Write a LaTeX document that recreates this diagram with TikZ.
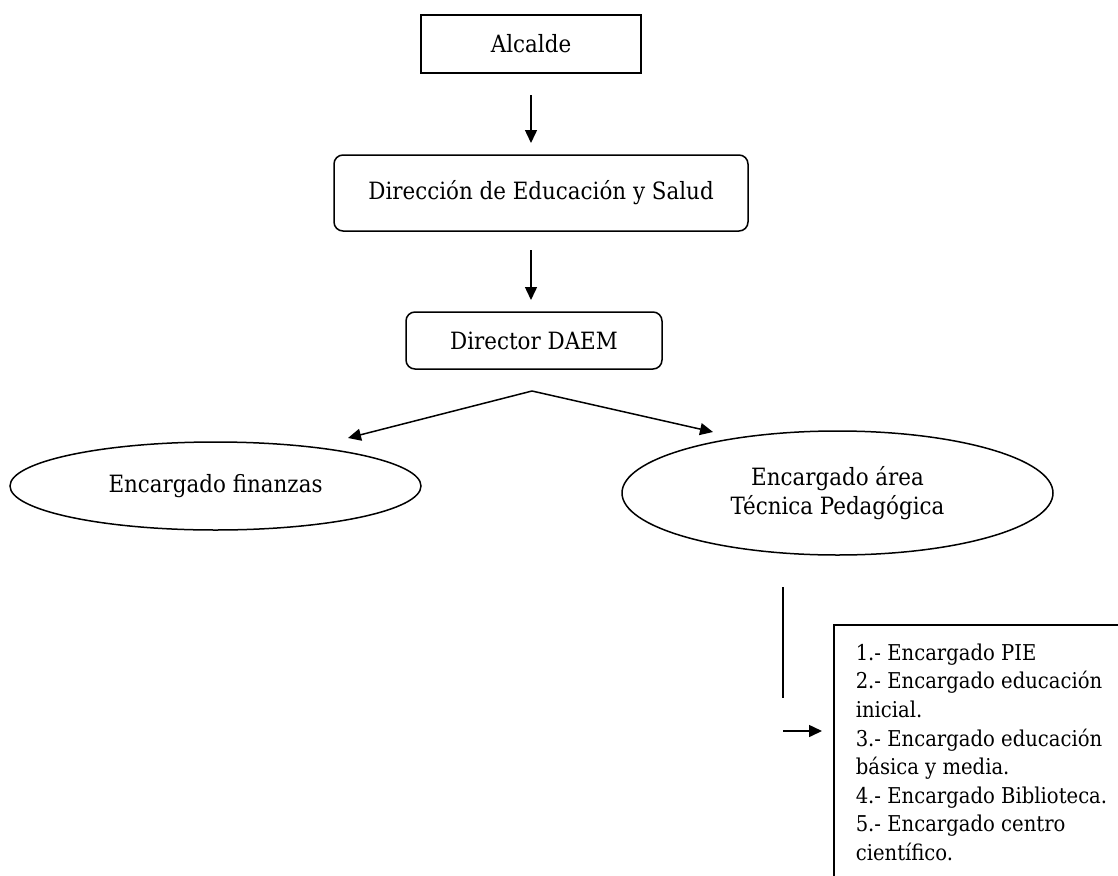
\documentclass[tikz,border=0pt]{standalone}
\usepackage{fontspec}
\setmainfont{DejaVu Serif Condensed}
\usetikzlibrary{arrows.meta,shapes.geometric}
\begin{document}
\begin{tikzpicture}[x=1pt,y=-1pt,
  line width=1.5pt,
  mainfont/.style={font=\fontsize{23.8}{29}\selectfont},
  sqbox/.style={draw,rectangle,mainfont,inner sep=0pt},
  rbox/.style={draw,rectangle,rounded corners=9pt,mainfont,inner sep=0pt},
  oval/.style={draw,ellipse,mainfont,inner sep=0pt,align=center},
  arr/.style={-{Triangle[length=13pt,width=12pt]}}]
\useasboundingbox (0,0) rectangle (1118,875);

% hierarchy boxes
\node[sqbox,minimum width=220pt,minimum height=58pt] (alc) at (531,44) {Alcalde};
\node[rbox,minimum width=414pt,minimum height=76pt] (dir) at (541,193) {Dirección de Educación y Salud};
\node[rbox,minimum width=256pt,minimum height=57pt] (daem) at (534,340.5) {Director DAEM};

% second level
\node[oval,minimum width=411pt,minimum height=88pt] (fin) at (215.5,486) {Encargado finanzas};
\node[oval,minimum width=431pt,minimum height=124pt] (tec) at (837.5,493) {Encargado área\\Técnica Pedagógica};

% connector end points
\coordinate (a1s) at (531,95);
\coordinate (a1e) at (531,143);
\coordinate (a2s) at (531,250);
\coordinate (a2e) at (531,300);
\coordinate (apex) at (532,391);
\coordinate (finTip) at (348,438);
\coordinate (tecTip) at (713,432);
\coordinate (vtop) at (783,587);
\coordinate (vbot) at (783,698);
\coordinate (hs) at (783,731);
\coordinate (he) at (822,731);

\draw[arr] (a1s) -- (a1e);
\draw[arr] (a2s) -- (a2e);
\draw[arr] (apex) -- (finTip);
\draw[arr] (apex) -- (tecTip);
\draw (vtop) -- (vbot);
\draw[arr] (hs) -- (he);

% list of units
\begin{scope}
\clip (0,0) rectangle (1118,875);
\draw (834,625) rectangle (1140,900);
\end{scope}
\node[anchor=north west,inner sep=0pt,align=left,
  font=\fontsize{21.8}{28.6}\selectfont] (lst) at (855,643)
  {1.- Encargado PIE\\
   2.- Encargado educación\\
   inicial.\\
   3.- Encargado educación\\
   básica y media.\\
   4.- Encargado Biblioteca.\\
   5.- Encargado centro\\
   científico.};
\end{tikzpicture}
\end{document}
